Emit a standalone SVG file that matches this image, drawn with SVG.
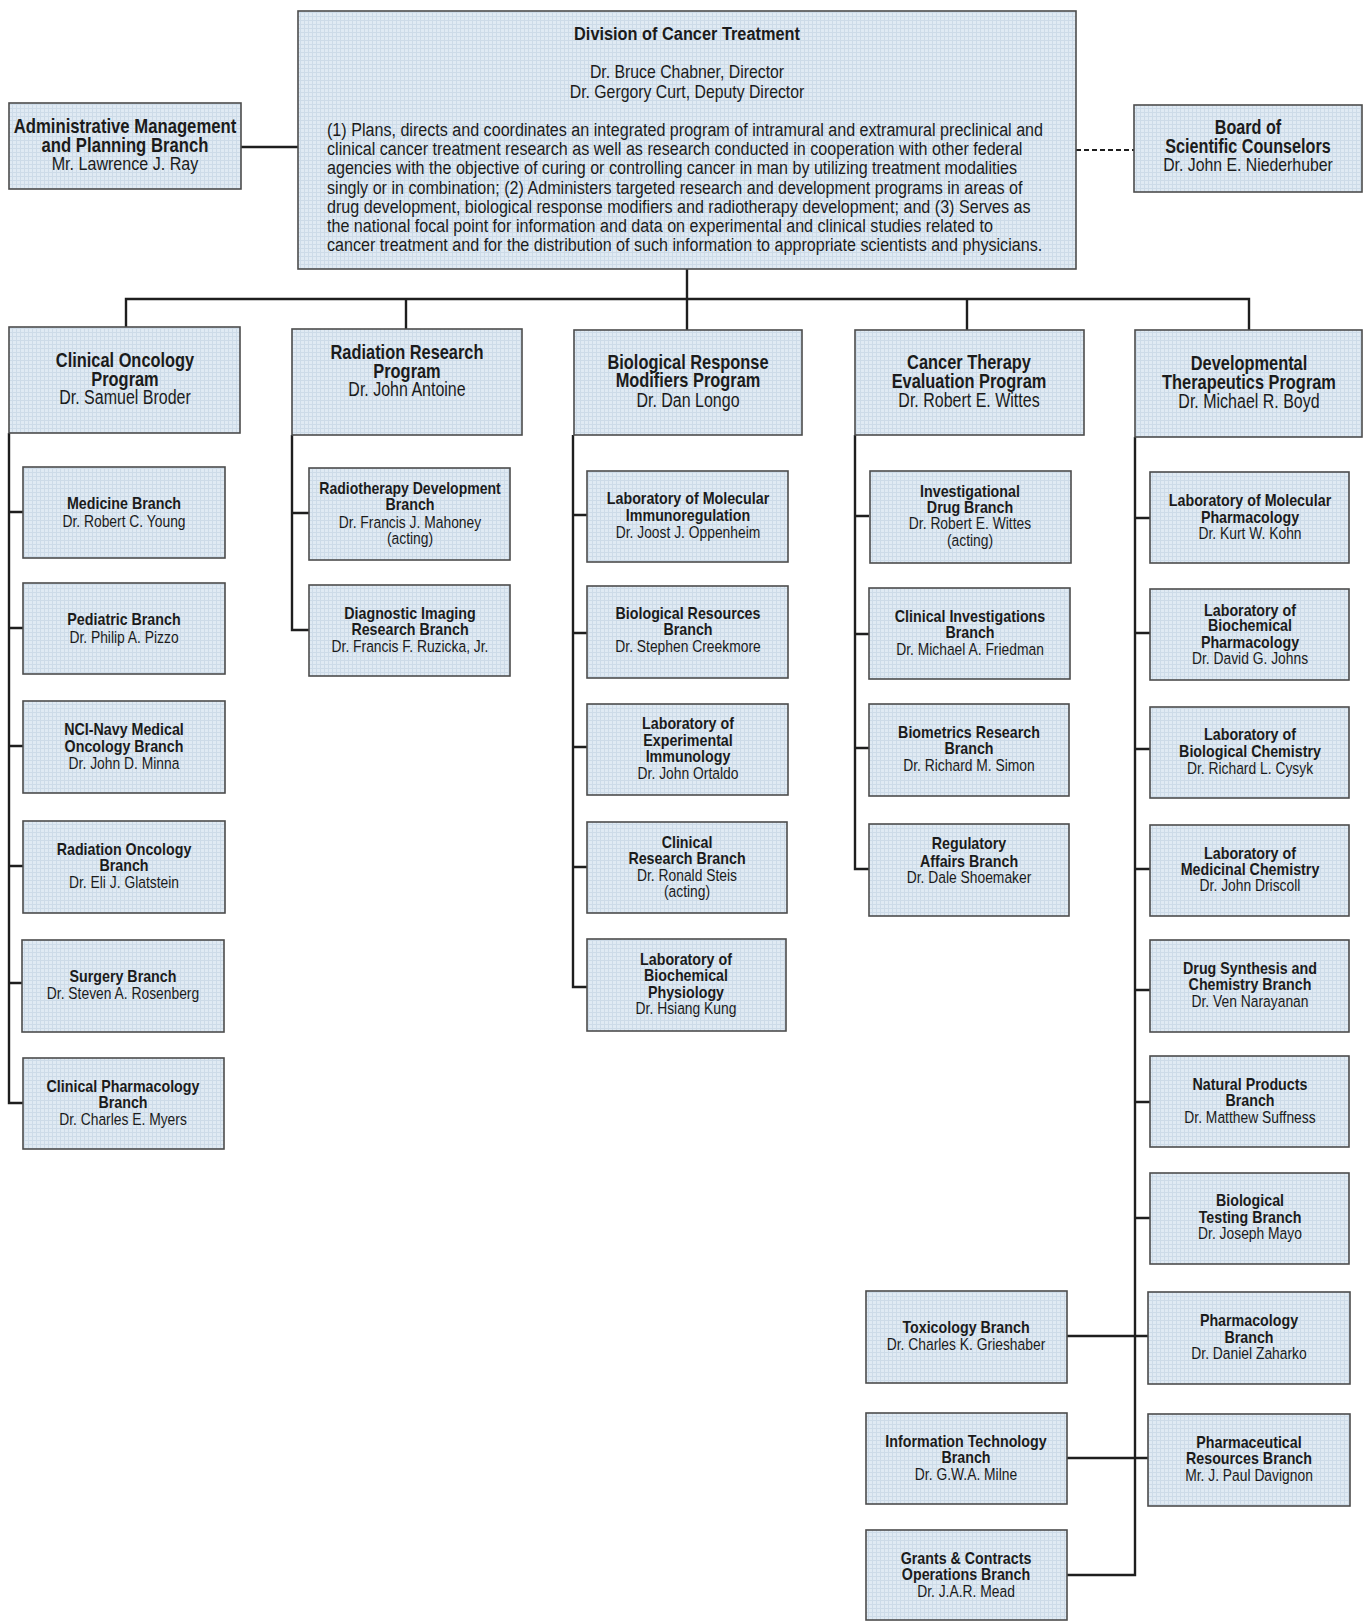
<svg xmlns="http://www.w3.org/2000/svg" width="1364" height="1622" viewBox="0 0 1364 1622">
<defs>
<pattern id="grid" width="4" height="4" patternUnits="userSpaceOnUse">
<rect width="4" height="4" fill="#e0eaf3"/>
<path d="M0,0.5 H4 M0.5,0 V4" stroke="#cddbe8" stroke-width="1" fill="none"/>
</pattern>
</defs>
<style>
.bx{fill:url(#grid);stroke:#4d4d4d;stroke-width:1.6}
.t{font-family:"Liberation Sans",Arial,sans-serif;text-anchor:middle;fill:#1b1b1b;font-size:16.5px}
.h{font-weight:bold}
.p{font-size:19.5px}
.ph{font-size:20px;font-weight:bold}
.par{font-family:"Liberation Sans",Arial,sans-serif;fill:#1b1b1b;font-size:17.8px}
.c{fill:none;stroke:#1e1e1e;stroke-width:2.4}
.d{fill:none;stroke:#1e1e1e;stroke-width:2;stroke-dasharray:5,3}
</style>
<rect width="1364" height="1622" fill="#ffffff"/>
<g id="connectors">
<path class="c" d="M241,147 H298"/>
<path class="d" d="M1076,150 H1134"/>
<path class="c" d="M687,269 V330 M126,327 V299 H1249 V330 M406,299 V329 M967,299 V330"/>
<path class="c" d="M9,433 V1103 H23 M9,512 H23 M9,628 H23 M9,746 H23 M9,866 H23 M9,983 H23"/>
<path class="c" d="M292,435 V630 H309 M292,513 H309"/>
<path class="c" d="M573,435 V987 H587 M573,515 H587 M573,633 H587 M573,747 H587 M573,867 H587"/>
<path class="c" d="M855,435 V869 H869 M855,516 H869 M855,634 H869 M855,748 H869"/>
<path class="c" d="M1135,437 V1575 H1067 M1135,518 H1150 M1135,633 H1150 M1135,749 H1150 M1135,869 H1150 M1135,990 H1150 M1135,1102 H1150 M1135,1218 H1150 M1067,1336 H1148 M1067,1458 H1148"/>
</g>
<g id="dct">
<rect class="bx" x="298" y="11" width="778" height="258"/>
<text class="t h" transform="translate(687,40) scale(.86,1)" style="font-size:19px">Division of Cancer Treatment</text>
<text class="t" transform="translate(687,78) scale(.855,1)" style="font-size:18.5px">Dr. Bruce Chabner, Director</text>
<text class="t" transform="translate(687,98) scale(.855,1)" style="font-size:18.5px">Dr. Gergory Curt, Deputy Director</text>
<text class="par" transform="translate(327,136) scale(.905,1)">(1) Plans, directs and coordinates an integrated program of intramural and extramural preclinical and</text>
<text class="par" transform="translate(327,155) scale(.905,1)">clinical cancer treatment research as well as research conducted in cooperation with other federal</text>
<text class="par" transform="translate(327,174) scale(.905,1)">agencies with the objective of curing or controlling cancer in man by utilizing treatment modalities</text>
<text class="par" transform="translate(327,194) scale(.905,1)">singly or in combination; (2) Administers targeted research and development programs in areas of</text>
<text class="par" transform="translate(327,213) scale(.905,1)">drug development, biological response modifiers and radiotherapy development; and (3) Serves as</text>
<text class="par" transform="translate(327,232) scale(.905,1)">the national focal point for information and data on experimental and clinical studies related to</text>
<text class="par" transform="translate(327,251) scale(.905,1)">cancer treatment and for the distribution of such information to appropriate scientists and physicians.</text>
</g>
<g id="admin">
<rect class="bx" x="9" y="103" width="232" height="86"/>
<text class="t ph" transform="translate(125,133) scale(.856,1)" style="font-size:19.5px">Administrative Management</text>
<text class="t ph" transform="translate(125,152) scale(.856,1)" style="font-size:19.5px">and Planning Branch</text>
<text class="t p" transform="translate(125,170) scale(.87,1)" style="font-size:18.5px">Mr. Lawrence J. Ray</text>
</g>
<g id="board">
<rect class="bx" x="1134" y="105" width="228" height="87"/>
<text class="t ph" transform="translate(1248,134) scale(.83,1)" style="font-size:19.5px">Board of</text>
<text class="t ph" transform="translate(1248,153) scale(.83,1)" style="font-size:19.5px">Scientific Counselors</text>
<text class="t p" transform="translate(1248,171) scale(.855,1)" style="font-size:18.5px">Dr. John E. Niederhuber</text>
</g>
<g id="cop">
<rect class="bx" x="9" y="327" width="231" height="106"/>
<text class="t ph" transform="translate(125,367) scale(.82,1)">Clinical Oncology</text>
<text class="t ph" transform="translate(125,386) scale(.82,1)">Program</text>
<text class="t p" transform="translate(125,404) scale(.82,1)">Dr. Samuel Broder</text>
</g>
<g id="rrp">
<rect class="bx" x="292" y="329" width="230" height="106"/>
<text class="t ph" transform="translate(407,359) scale(.82,1)">Radiation Research</text>
<text class="t ph" transform="translate(407,378) scale(.82,1)">Program</text>
<text class="t p" transform="translate(407,396) scale(.82,1)">Dr. John Antoine</text>
</g>
<g id="brmp">
<rect class="bx" x="574" y="330" width="228" height="105"/>
<text class="t ph" transform="translate(688,369) scale(.82,1)">Biological Response</text>
<text class="t ph" transform="translate(688,387) scale(.82,1)">Modifiers Program</text>
<text class="t p" transform="translate(688,407) scale(.82,1)">Dr. Dan Longo</text>
</g>
<g id="ctep">
<rect class="bx" x="855" y="330" width="229" height="105"/>
<text class="t ph" transform="translate(969,369) scale(.82,1)">Cancer Therapy</text>
<text class="t ph" transform="translate(969,388) scale(.82,1)">Evaluation Program</text>
<text class="t p" transform="translate(969,407) scale(.82,1)">Dr. Robert E. Wittes</text>
</g>
<g id="dtp">
<rect class="bx" x="1135" y="330" width="227" height="107"/>
<text class="t ph" transform="translate(1249,370) scale(.82,1)">Developmental</text>
<text class="t ph" transform="translate(1249,389) scale(.82,1)">Therapeutics Program</text>
<text class="t p" transform="translate(1249,408) scale(.82,1)">Dr. Michael R. Boyd</text>
</g>
<g id="medicine">
<rect class="bx" x="23" y="467" width="202" height="91"/>
<text class="t h" transform="translate(124,509) scale(.865,1)">Medicine Branch</text>
<text class="t" transform="translate(124,527) scale(.84,1)">Dr. Robert C. Young</text>
</g>
<g id="pediatric">
<rect class="bx" x="23" y="583" width="202" height="91"/>
<text class="t h" transform="translate(124,625) scale(.865,1)">Pediatric Branch</text>
<text class="t" transform="translate(124,643) scale(.84,1)">Dr. Philip A. Pizzo</text>
</g>
<g id="ncinavy">
<rect class="bx" x="23" y="701" width="202" height="92"/>
<text class="t h" transform="translate(124,735) scale(.865,1)">NCI-Navy Medical</text>
<text class="t h" transform="translate(124,752) scale(.865,1)">Oncology Branch</text>
<text class="t" transform="translate(124,769) scale(.84,1)">Dr. John D. Minna</text>
</g>
<g id="radonc">
<rect class="bx" x="23" y="821" width="202" height="92"/>
<text class="t h" transform="translate(124,855) scale(.865,1)">Radiation Oncology</text>
<text class="t h" transform="translate(124,871) scale(.865,1)">Branch</text>
<text class="t" transform="translate(124,888) scale(.84,1)">Dr. Eli J. Glatstein</text>
</g>
<g id="surgery">
<rect class="bx" x="22" y="940" width="202" height="92"/>
<text class="t h" transform="translate(123,982) scale(.865,1)">Surgery Branch</text>
<text class="t" transform="translate(123,999) scale(.84,1)">Dr. Steven A. Rosenberg</text>
</g>
<g id="clinpharm">
<rect class="bx" x="23" y="1058" width="201" height="91"/>
<text class="t h" transform="translate(123,1092) scale(.865,1)">Clinical Pharmacology</text>
<text class="t h" transform="translate(123,1108) scale(.865,1)">Branch</text>
<text class="t" transform="translate(123,1125) scale(.84,1)">Dr. Charles E. Myers</text>
</g>
<g id="radiodev">
<rect class="bx" x="309" y="468" width="201" height="92"/>
<text class="t h" transform="translate(410,494) scale(.85,1)">Radiotherapy Development</text>
<text class="t h" transform="translate(410,510) scale(.865,1)">Branch</text>
<text class="t" transform="translate(410,528) scale(.84,1)">Dr. Francis J. Mahoney</text>
<text class="t" transform="translate(410,544) scale(.84,1)">(acting)</text>
</g>
<g id="diagimg">
<rect class="bx" x="309" y="585" width="201" height="91"/>
<text class="t h" transform="translate(410,619) scale(.865,1)">Diagnostic Imaging</text>
<text class="t h" transform="translate(410,635) scale(.865,1)">Research Branch</text>
<text class="t" transform="translate(410,652) scale(.84,1)">Dr. Francis F. Ruzicka, Jr.</text>
</g>
<g id="lmi">
<rect class="bx" x="587" y="471" width="201" height="91"/>
<text class="t h" transform="translate(688,504) scale(.865,1)">Laboratory of Molecular</text>
<text class="t h" transform="translate(688,521) scale(.865,1)">Immunoregulation</text>
<text class="t" transform="translate(688,538) scale(.84,1)">Dr. Joost J. Oppenheim</text>
</g>
<g id="biores">
<rect class="bx" x="587" y="586" width="201" height="92"/>
<text class="t h" transform="translate(688,619) scale(.865,1)">Biological Resources</text>
<text class="t h" transform="translate(688,635) scale(.865,1)">Branch</text>
<text class="t" transform="translate(688,652) scale(.84,1)">Dr. Stephen Creekmore</text>
</g>
<g id="lei">
<rect class="bx" x="587" y="704" width="201" height="91"/>
<text class="t h" transform="translate(688,729) scale(.865,1)">Laboratory of</text>
<text class="t h" transform="translate(688,746) scale(.865,1)">Experimental</text>
<text class="t h" transform="translate(688,762) scale(.865,1)">Immunology</text>
<text class="t" transform="translate(688,779) scale(.84,1)">Dr. John Ortaldo</text>
</g>
<g id="clinres">
<rect class="bx" x="587" y="822" width="200" height="91"/>
<text class="t h" transform="translate(687,848) scale(.865,1)">Clinical</text>
<text class="t h" transform="translate(687,864) scale(.865,1)">Research Branch</text>
<text class="t" transform="translate(687,881) scale(.84,1)">Dr. Ronald Steis</text>
<text class="t" transform="translate(687,897) scale(.84,1)">(acting)</text>
</g>
<g id="lbp">
<rect class="bx" x="587" y="939" width="199" height="92"/>
<text class="t h" transform="translate(686,965) scale(.865,1)">Laboratory of</text>
<text class="t h" transform="translate(686,981) scale(.865,1)">Biochemical</text>
<text class="t h" transform="translate(686,998) scale(.865,1)">Physiology</text>
<text class="t" transform="translate(686,1014) scale(.84,1)">Dr. Hsiang Kung</text>
</g>
<g id="invdrug">
<rect class="bx" x="870" y="471" width="201" height="92"/>
<text class="t h" transform="translate(970,497) scale(.865,1)">Investigational</text>
<text class="t h" transform="translate(970,513) scale(.865,1)">Drug Branch</text>
<text class="t" transform="translate(970,529) scale(.84,1)">Dr. Robert E. Wittes</text>
<text class="t" transform="translate(970,546) scale(.84,1)">(acting)</text>
</g>
<g id="clininv">
<rect class="bx" x="869" y="588" width="201" height="91"/>
<text class="t h" transform="translate(970,622) scale(.865,1)">Clinical Investigations</text>
<text class="t h" transform="translate(970,638) scale(.865,1)">Branch</text>
<text class="t" transform="translate(970,655) scale(.84,1)">Dr. Michael A. Friedman</text>
</g>
<g id="biometrics">
<rect class="bx" x="869" y="704" width="200" height="92"/>
<text class="t h" transform="translate(969,738) scale(.865,1)">Biometrics Research</text>
<text class="t h" transform="translate(969,754) scale(.865,1)">Branch</text>
<text class="t" transform="translate(969,771) scale(.84,1)">Dr. Richard M. Simon</text>
</g>
<g id="regaffairs">
<rect class="bx" x="869" y="824" width="200" height="92"/>
<text class="t h" transform="translate(969,849) scale(.865,1)">Regulatory</text>
<text class="t h" transform="translate(969,867) scale(.865,1)">Affairs Branch</text>
<text class="t" transform="translate(969,883) scale(.84,1)">Dr. Dale Shoemaker</text>
</g>
<g id="lmp">
<rect class="bx" x="1150" y="472" width="199" height="91"/>
<text class="t h" transform="translate(1250,506) scale(.865,1)">Laboratory of Molecular</text>
<text class="t h" transform="translate(1250,523) scale(.865,1)">Pharmacology</text>
<text class="t" transform="translate(1250,539) scale(.84,1)">Dr. Kurt W. Kohn</text>
</g>
<g id="lbph">
<rect class="bx" x="1150" y="589" width="199" height="91"/>
<text class="t h" transform="translate(1250,616) scale(.865,1)">Laboratory of</text>
<text class="t h" transform="translate(1250,631) scale(.865,1)">Biochemical</text>
<text class="t h" transform="translate(1250,648) scale(.865,1)">Pharmacology</text>
<text class="t" transform="translate(1250,664) scale(.84,1)">Dr. David G. Johns</text>
</g>
<g id="lbc">
<rect class="bx" x="1150" y="707" width="199" height="91"/>
<text class="t h" transform="translate(1250,740) scale(.865,1)">Laboratory of</text>
<text class="t h" transform="translate(1250,757) scale(.865,1)">Biological Chemistry</text>
<text class="t" transform="translate(1250,774) scale(.84,1)">Dr. Richard L. Cysyk</text>
</g>
<g id="lmc">
<rect class="bx" x="1150" y="825" width="199" height="91"/>
<text class="t h" transform="translate(1250,859) scale(.865,1)">Laboratory of</text>
<text class="t h" transform="translate(1250,875) scale(.865,1)">Medicinal Chemistry</text>
<text class="t" transform="translate(1250,891) scale(.84,1)">Dr. John Driscoll</text>
</g>
<g id="drugsyn">
<rect class="bx" x="1150" y="940" width="199" height="92"/>
<text class="t h" transform="translate(1250,974) scale(.865,1)">Drug Synthesis and</text>
<text class="t h" transform="translate(1250,990) scale(.865,1)">Chemistry Branch</text>
<text class="t" transform="translate(1250,1007) scale(.84,1)">Dr. Ven Narayanan</text>
</g>
<g id="natprod">
<rect class="bx" x="1150" y="1056" width="199" height="91"/>
<text class="t h" transform="translate(1250,1090) scale(.865,1)">Natural Products</text>
<text class="t h" transform="translate(1250,1106) scale(.865,1)">Branch</text>
<text class="t" transform="translate(1250,1123) scale(.84,1)">Dr. Matthew Suffness</text>
</g>
<g id="biotest">
<rect class="bx" x="1150" y="1173" width="199" height="91"/>
<text class="t h" transform="translate(1250,1206) scale(.865,1)">Biological</text>
<text class="t h" transform="translate(1250,1223) scale(.865,1)">Testing Branch</text>
<text class="t" transform="translate(1250,1239) scale(.84,1)">Dr. Joseph Mayo</text>
</g>
<g id="pharmacology">
<rect class="bx" x="1148" y="1292" width="202" height="92"/>
<text class="t h" transform="translate(1249,1326) scale(.865,1)">Pharmacology</text>
<text class="t h" transform="translate(1249,1343) scale(.865,1)">Branch</text>
<text class="t" transform="translate(1249,1359) scale(.84,1)">Dr. Daniel Zaharko</text>
</g>
<g id="pharmres">
<rect class="bx" x="1148" y="1414" width="202" height="92"/>
<text class="t h" transform="translate(1249,1448) scale(.865,1)">Pharmaceutical</text>
<text class="t h" transform="translate(1249,1464) scale(.865,1)">Resources Branch</text>
<text class="t" transform="translate(1249,1481) scale(.84,1)">Mr. J. Paul Davignon</text>
</g>
<g id="toxicology">
<rect class="bx" x="866" y="1291" width="201" height="92"/>
<text class="t h" transform="translate(966,1333) scale(.865,1)">Toxicology Branch</text>
<text class="t" transform="translate(966,1350) scale(.84,1)">Dr. Charles K. Grieshaber</text>
</g>
<g id="infotech">
<rect class="bx" x="866" y="1413" width="201" height="91"/>
<text class="t h" transform="translate(966,1447) scale(.865,1)">Information Technology</text>
<text class="t h" transform="translate(966,1463) scale(.865,1)">Branch</text>
<text class="t" transform="translate(966,1480) scale(.84,1)">Dr. G.W.A. Milne</text>
</g>
<g id="grants">
<rect class="bx" x="866" y="1530" width="201" height="90"/>
<text class="t h" transform="translate(966,1564) scale(.865,1)">Grants &amp; Contracts</text>
<text class="t h" transform="translate(966,1580) scale(.865,1)">Operations Branch</text>
<text class="t" transform="translate(966,1597) scale(.84,1)">Dr. J.A.R. Mead</text>
</g>
</svg>
